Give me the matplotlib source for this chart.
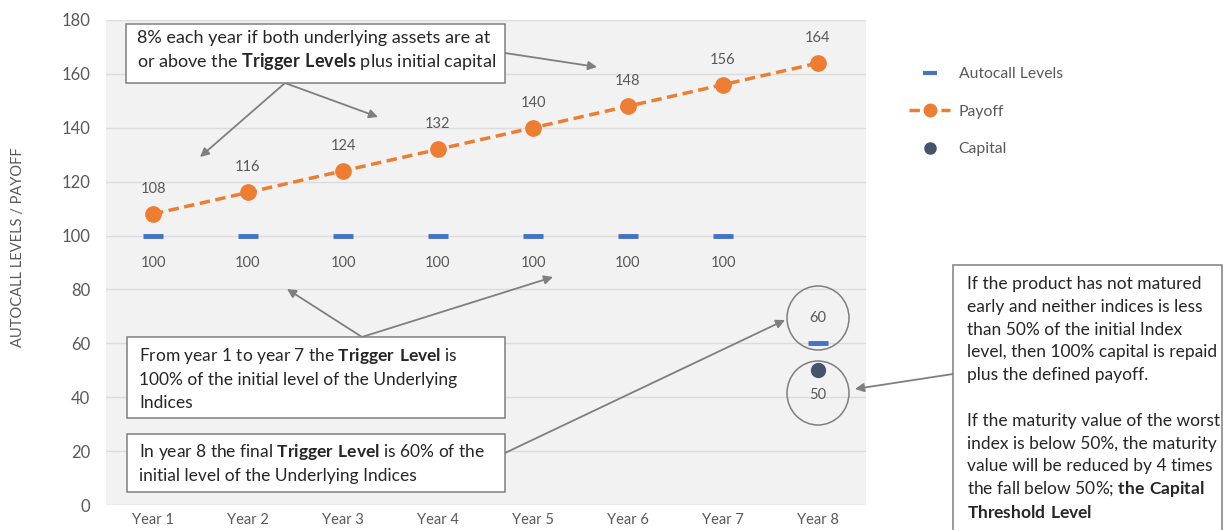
import matplotlib
matplotlib.use("Agg")
import matplotlib.pyplot as plt
import matplotlib.patches as mpatches
from matplotlib.lines import Line2D

# Data
years = ["Year 1", "Year 2", "Year 3", "Year 4", "Year 5", "Year 6", "Year 7", "Year 8"]
autocall = [100, 100, 100, 100, 100, 100, 100, 60]
payoff = [108, 116, 124, 132, 140, 148, 156, 164]
capital_year = 8
capital = 50

W, H = 1224, 530
BLUE = "#4472c4"
ORANGE = "#ed7d31"
NAVY = "#44546a"
GREY_TXT = "#595959"
ARROW = "#7f7f7f"

plt.rcParams["font.family"] = ["Lato", "DejaVu Sans"]
plt.rcParams["mathtext.fontset"] = "custom"
plt.rcParams["mathtext.rm"] = "Lato"
plt.rcParams["mathtext.bf"] = "Lato:bold"


def fx(px):
    return px / W


def fy(py):
    return 1 - py / H


def main():
    fig = plt.figure(figsize=(W / 100, H / 100), dpi=100)
    ax = fig.add_axes([fx(105.5), fy(505), fx(865.5) - fx(105.5), fy(20) - fy(505)])
    ax.set_facecolor("#f2f2f2")
    for s in ax.spines.values():
        s.set_visible(False)

    x = list(range(1, len(years) + 1))
    ax.set_xlim(0.5, 8.5)
    ax.set_ylim(0, 180)
    ax.set_yticks(range(0, 181, 20))
    ax.set_xticks(x)
    ax.set_xticklabels(years)
    ax.tick_params(axis="both", length=0, colors=GREY_TXT)
    ax.tick_params(axis="x", pad=6, labelsize=10.5)
    ax.tick_params(axis="y", pad=11, labelsize=12)
    ax.grid(axis="y", color="#dcdcdc", lw=1)
    ax.set_axisbelow(True)

    # Series
    ax.plot(x, payoff, color=ORANGE, ls=(0, (3, 1.6)), lw=2.5, marker="o", ms=11, zorder=3)
    ax.plot(x, autocall, ls="none", marker="_", ms=15, mew=3.5, color=BLUE, zorder=3)
    ax.plot([capital_year], [capital], ls="none", marker="o", ms=10, color=NAVY, zorder=3)

    # Data labels
    for xi, v in zip(x, payoff):
        ax.annotate(str(v), (xi, v), xytext=(0, 18), textcoords="offset points",
                    ha="center", va="center", fontsize=10.5, color=GREY_TXT)
    for xi, v in zip(x[:-1], autocall[:-1]):
        ax.annotate(str(v), (xi, v), xytext=(0, -20), textcoords="offset points",
                    ha="center", va="center", fontsize=10.5, color=GREY_TXT)
    ax.annotate(str(autocall[-1]), (x[-1], autocall[-1]), xytext=(0, 18), textcoords="offset points",
                ha="center", va="center", fontsize=10.5, color=GREY_TXT)
    ax.annotate(str(capital), (capital_year, capital), xytext=(0, -18), textcoords="offset points",
                ha="center", va="center", fontsize=10.5, color=GREY_TXT)

    fig.text(fx(18), fy(247), "AUTOCALL LEVELS / PAYOFF", rotation=90, ha="center", va="center",
             fontsize=10.5, color=GREY_TXT)

    # Legend
    handles = [
        Line2D([], [], ls="none", marker="_", ms=10, mew=3, color=BLUE),
        Line2D([], [], color=ORANGE, ls=(0, (3, 1.6)), lw=2.5, marker="o", ms=9),
        Line2D([], [], ls="none", marker="o", ms=8, color=NAVY),
    ]
    fig.legend(handles, ["Autocall Levels", "Payoff", "Capital"], loc="upper left",
               bbox_to_anchor=(fx(895), fy(53)), frameon=False, fontsize=11.3,
               labelcolor=GREY_TXT, labelspacing=1.5, handlelength=2.6, handletextpad=0.55)

    # Circles around Year 8 labels
    for cy in (318, 393):
        fig.add_artist(mpatches.Ellipse((fx(818), fy(cy)), 62 / W, 64 / H, transform=fig.transFigure,
                                        fill=False, ec="#7f7f7f", lw=1.1, zorder=5))

    # Callout boxes
    def box(x0, y0, x1, y1, lines, tx, ty, spacing, size):
        fig.add_artist(mpatches.Rectangle((fx(x0), fy(y1)), fx(x1) - fx(x0), fy(y0) - fy(y1),
                                          transform=fig.transFigure, fc="white", ec="#7f7f7f",
                                          lw=1.1, zorder=5))
        for i, line in enumerate(lines):
            fig.text(fx(tx), fy(ty + i * spacing), line, ha="left", va="center",
                     fontsize=size, color="#262626", zorder=6)

    box(126, 24, 505, 83,
        ["8% each year if both underlying assets are at",
         r"or above the $\mathbf{Trigger\ Levels}$ plus initial capital"], 137, 38, 24, 13)
    box(127, 337, 505, 418,
        [r"From year 1 to year 7 the $\mathbf{Trigger\ Level}$ is",
         "100% of the initial level of the Underlying",
         "Indices"], 139, 356, 23.5, 12.5)
    box(127, 434, 505, 492,
        [r"In year 8 the final $\mathbf{Trigger\ Level}$ is 60% of the",
         "initial level of the Underlying Indices"], 139, 452, 23.5, 12.5)
    box(953, 265, 1222, 540,
        ["If the product has not matured",
         "early and neither indices is less",
         "than 50% of the initial Index",
         "level, then 100% capital is repaid",
         "plus the defined payoff.",
         "",
         "If the maturity value of the worst",
         "index is below 50%, the maturity",
         "value will be reduced by 4 times",
         r"the fall below 50%; $\mathbf{the\ Capital}$",
         r"$\mathbf{Threshold\ Level}$"], 967, 284, 22.8, 12.5)

    # Arrows
    arrows = [
        ((285, 83), (200, 157)),
        ((285, 83), (378, 117)),
        ((505, 53), (597, 67)),
        ((362, 337), (287, 289)),
        ((362, 337), (553, 277)),
        ((505, 453), (785, 320)),
        ((953, 374), (855, 389)),
    ]
    for (ax0, ay0), (ax1, ay1) in arrows:
        fig.add_artist(mpatches.FancyArrowPatch((fx(ax0), fy(ay0)), (fx(ax1), fy(ay1)),
                                                transform=fig.transFigure, arrowstyle="-|>",
                                                mutation_scale=13, color=ARROW, lw=1.3,
                                                shrinkA=0, shrinkB=0, zorder=4))

    fig.savefig("out.png", dpi=100)


if __name__ == "__main__":
    main()
